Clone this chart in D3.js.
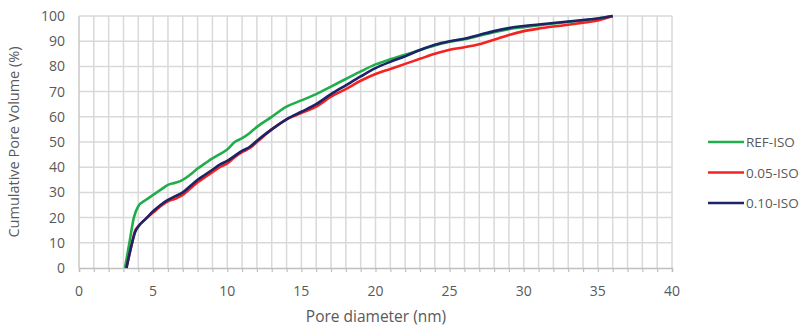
<!DOCTYPE html>
<html>
<head>
<meta charset="utf-8">
<script src="https://cdn.jsdelivr.net/npm/d3@7"></script>
<style>
  body { margin: 0; background: #fff; }
  text { font-family: "Open Sans", sans-serif; fill: #595959; }
</style>
</head>
<body>
<script>
// pore diameter (nm) for each series
var xRef = [3.1, 3.4, 3.7, 4, 4.5, 5, 5.5, 6, 6.5, 7, 7.5, 8, 8.5, 9, 9.5, 10, 10.5, 11, 11.5, 12, 13, 14, 15, 16, 17, 18, 19, 20, 21, 22, 23, 24, 25, 26, 27, 28, 29, 30, 31, 32, 33, 34, 35, 36]
var yRef = [0, 10, 20, 24.5, 27, 29, 31, 33, 33.8, 35, 37, 39.5, 41.5, 43.5, 45.2, 47, 50, 51.5, 53.5, 56, 60, 64, 66.5, 69, 72, 75, 78, 80.8, 82.8, 84.6, 86.5, 88.3, 89.8, 90.8, 92.2, 93.6, 94.8, 95.6, 96.3, 97, 97.6, 98.2, 99, 100]

var x005 = [3.2, 3.5, 3.8, 4, 4.5, 5, 5.5, 6, 6.5, 7, 7.5, 8, 8.5, 9, 9.5, 10, 10.5, 11, 11.5, 12, 13, 14, 15, 16, 17, 18, 19, 20, 21, 22, 23, 24, 25, 26, 27, 28, 29, 30, 31, 32, 33, 34, 35, 36]
var y005 = [0, 8, 15, 16.5, 19.5, 22, 24.5, 26.5, 27.5, 29, 31.5, 34, 36, 38, 40, 41.5, 44, 46, 47.5, 50, 55, 59, 61.5, 64, 68, 71, 74.3, 77, 79, 81, 83, 85, 86.6, 87.6, 88.8, 90.6, 92.5, 94, 95, 95.8, 96.5, 97.3, 98.2, 100]

var x010 = [3.2, 3.5, 3.8, 4, 4.5, 5, 5.5, 6, 6.5, 7, 7.5, 8, 8.5, 9, 9.5, 10, 10.5, 11, 11.5, 12, 13, 14, 15, 16, 17, 18, 19, 20, 21, 22, 23, 24, 25, 26, 27, 28, 29, 30, 31, 32, 33, 34, 35, 36]
var y010 = [0, 8, 14.5, 16.5, 19.5, 22.5, 25, 27, 28.5, 30, 32.5, 35, 37, 39, 41, 42.5, 44.5, 46.5, 48, 50.5, 55, 59, 62, 65, 69, 72.5, 76, 79.3, 81.8, 84, 86.5, 88.6, 90, 91, 92.5, 94, 95.2, 96, 96.6, 97.2, 97.8, 98.4, 99, 100]

var seriesNames = ['REF-ISO', '0.05-ISO', '0.10-ISO']
var seriesColors = ['#21ad4b', '#f42222', '#1b2466']
var xTicks = [0, 5, 10, 15, 20, 25, 30, 35, 40]
var yTicks = [0, 10, 20, 30, 40, 50, 60, 70, 80, 90, 100]

var series = [
	{name: seriesNames[0], xs: xRef, ys: yRef},
	{name: seriesNames[1], xs: x005, ys: y005},
	{name: seriesNames[2], xs: x010, ys: y010}
]

var body = d3.select('body')

var svg = body.append('svg')
	.attr('width', 805)
	.attr('height', 327)

var x = d3.scaleLinear().domain([0, 40]).range([79, 672])
var y = d3.scaleLinear().domain([0, 100]).range([268, 16])

// grid
var grid = svg.append('g')
grid.selectAll('line.v')
	.data(d3.range(1, 41))
	.enter().append('line')
	.attr('x1', function(d){ return x(d) })
	.attr('x2', function(d){ return x(d) })
	.attr('y1', y(0))
	.attr('y2', y(100))
	.attr('stroke', '#d9d9d9')
	.attr('stroke-width', 1.5)
grid.selectAll('line.h')
	.data(yTicks.slice(1))
	.enter().append('line')
	.attr('x1', x(0))
	.attr('x2', x(40))
	.attr('y1', function(d){ return y(d) })
	.attr('y2', function(d){ return y(d) })
	.attr('stroke', '#d9d9d9')
	.attr('stroke-width', 1.5)

// left axis line
svg.append('line')
	.attr('x1', x(0)).attr('x2', x(0))
	.attr('y1', y(0)).attr('y2', y(100))
	.attr('stroke', '#c8c8c8')
	.attr('stroke-width', 1.5)

// x axis
var xAxis = svg.append('g')
	.attr('transform', 'translate(0,' + y(0) + ')')
	.call(d3.axisBottom(x).tickValues(d3.range(0, 41)).tickSize(4).tickFormat(''))
xAxis.select('.domain').attr('stroke', '#bfbfbf').attr('stroke-width', 1.5)
xAxis.selectAll('.tick line').attr('stroke', '#bfbfbf').attr('stroke-width', 1.2)

svg.append('g').selectAll('text')
	.data(xTicks)
	.enter().append('text')
	.attr('x', function(d){ return x(d) })
	.attr('y', 296)
	.attr('text-anchor', 'middle')
	.style('font-size', '14px')
	.text(function(d){ return d })

// y tick labels
svg.append('g').selectAll('text')
	.data(yTicks)
	.enter().append('text')
	.attr('x', 65)
	.attr('y', function(d){ return y(d) + 5 })
	.attr('text-anchor', 'end')
	.style('font-size', '14px')
	.text(function(d){ return d })

// axis titles
svg.append('text')
	.attr('x', 376)
	.attr('y', 322)
	.attr('text-anchor', 'middle')
	.style('font-size', '15.5px')
	.text('Pore diameter (nm)')

svg.append('text')
	.attr('transform', 'translate(19,142) rotate(-90)')
	.attr('text-anchor', 'middle')
	.style('font-size', '14.5px')
	.text('Cumulative Pore Volume (%)')

// curves
var line = d3.line()
	.x(function(d){ return x(d[0]) })
	.y(function(d){ return y(d[1]) })
	.curve(d3.curveMonotoneX)

series.forEach(function(s, i){
	svg.append('path')
		.datum(d3.zip(s.xs, s.ys))
		.attr('d', line)
		.attr('fill', 'none')
		.attr('stroke', seriesColors[i])
		.attr('stroke-width', 2.6)
		.attr('stroke-linejoin', 'round')
})

// legend
var legend = svg.append('g')
	.attr('transform', 'translate(708,142)')
seriesNames.forEach(function(n, i){
	var g = legend.append('g').attr('transform', 'translate(0,' + (i * 30.5) + ')')
	g.append('line')
		.attr('x1', 0).attr('x2', 36)
		.attr('y1', 0).attr('y2', 0)
		.attr('stroke', seriesColors[i])
		.attr('stroke-width', 2.6)
	g.append('text')
		.attr('x', 38)
		.attr('y', 5)
		.style('font-size', '13.5px')
		.text(n)
})
</script>
</body>
</html>
